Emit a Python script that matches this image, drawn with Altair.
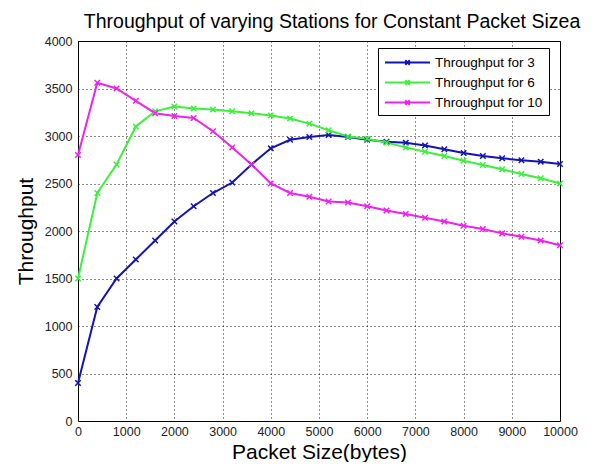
import altair as alt
import pandas as pd

packet_sizes = list(range(0, 10001, 400))
series_names = ["Throughput for 3", "Throughput for 6", "Throughput for 10"]
thr_3 = [400, 1200, 1500, 1700, 1900, 2100, 2260, 2400, 2510, 2700, 2870, 2960, 2990,
         3010, 2990, 2960, 2940, 2930, 2900, 2860, 2820, 2790, 2765, 2745, 2730, 2705]
thr_6 = [1500, 2400, 2700, 3100, 3260, 3310, 3290, 3280, 3260, 3240, 3215, 3185, 3130,
         3060, 2995, 2970, 2930, 2880, 2835, 2790, 2740, 2695, 2650, 2600, 2555, 2500]
thr_10 = [2800, 3560, 3500, 3370, 3240, 3210, 3190, 3050, 2880, 2700, 2500, 2400, 2360,
          2310, 2300, 2260, 2215, 2180, 2140, 2100, 2055, 2020, 1975, 1940, 1900, 1850]
colors = ["#1414b4", "#3cf03c", "#ee22ee"]
x_ticks = list(range(0, 10001, 1000))
y_ticks = list(range(0, 4001, 500))

rows = []
for name, vals in zip(series_names, [thr_3, thr_6, thr_10]):
    for x, y in zip(packet_sizes, vals):
        rows.append({"size": x, "thr": y, "series": name})
df = pd.DataFrame(rows)

xenc = alt.X("size:Q", title="Packet Size(bytes)",
             scale=alt.Scale(domain=[0, 10000], nice=False),
             axis=alt.Axis(values=x_ticks, format="d", labelPadding=4, titlePadding=4,
                           labelOverlap=False, labelFlush=False))
yenc = alt.Y("thr:Q", title="Throughput",
             scale=alt.Scale(domain=[0, 4000], nice=False),
             axis=alt.Axis(values=y_ticks, format="d", labelPadding=6, titlePadding=8,
                           labelOverlap=False))
color = alt.Color("series:N", sort=series_names,
                  scale=alt.Scale(domain=series_names, range=colors),
                  legend=alt.Legend(
                      title=None, orient="none", legendX=300, legendY=7,
                      symbolType="M-3,0L3,0M-0.3,-0.3L0.3,0.3M-0.3,0.3L0.3,-0.3",
                      symbolSize=225, symbolStrokeWidth=2, symbolOffset=15,
                      labelFontSize=13.5, labelFont="Liberation Sans", labelColor="black",
                      fillColor="white", strokeColor="black", padding=6,
                      rowPadding=5, labelOffset=19))

lines = alt.Chart(df).mark_line(strokeWidth=2).encode(
    x=xenc, y=yenc, color=color, detail="series:N", order="size:Q")
points = alt.Chart(df).mark_point(
    shape="M-1,-1L1,1M-1,1L1,-1", filled=False, size=30, strokeWidth=1.5, opacity=1
).encode(x="size:Q", y="thr:Q", color=alt.Color("series:N", sort=series_names,
         scale=alt.Scale(domain=series_names, range=colors), legend=None))

chart = alt.layer(lines, points).properties(
    width=482, height=380,
    title=alt.Title("Throughput of varying Stations for Constant Packet Sizea",
                    fontSize=19.5, fontWeight="normal", font="Liberation Sans",
                    color="black", offset=3, anchor="middle", dx=13),
    autosize=alt.AutoSizeParams(type="none"),
    padding={"left": 70, "top": 33, "right": 27, "bottom": 41},
).configure_view(stroke="black", strokeWidth=1).configure_axis(
    grid=True, gridColor="black", gridDash=[1, 3], gridOpacity=0.9, gridWidth=1,
    domain=False, ticks=False, labelFont="Liberation Sans", labelFontSize=12.5,
    labelColor="#222", titleFont="Liberation Sans", titleFontSize=21,
    titleFontWeight="normal", titleColor="black",
)

chart.save("out.html", embed_options={"renderer": "svg", "actions": False})
